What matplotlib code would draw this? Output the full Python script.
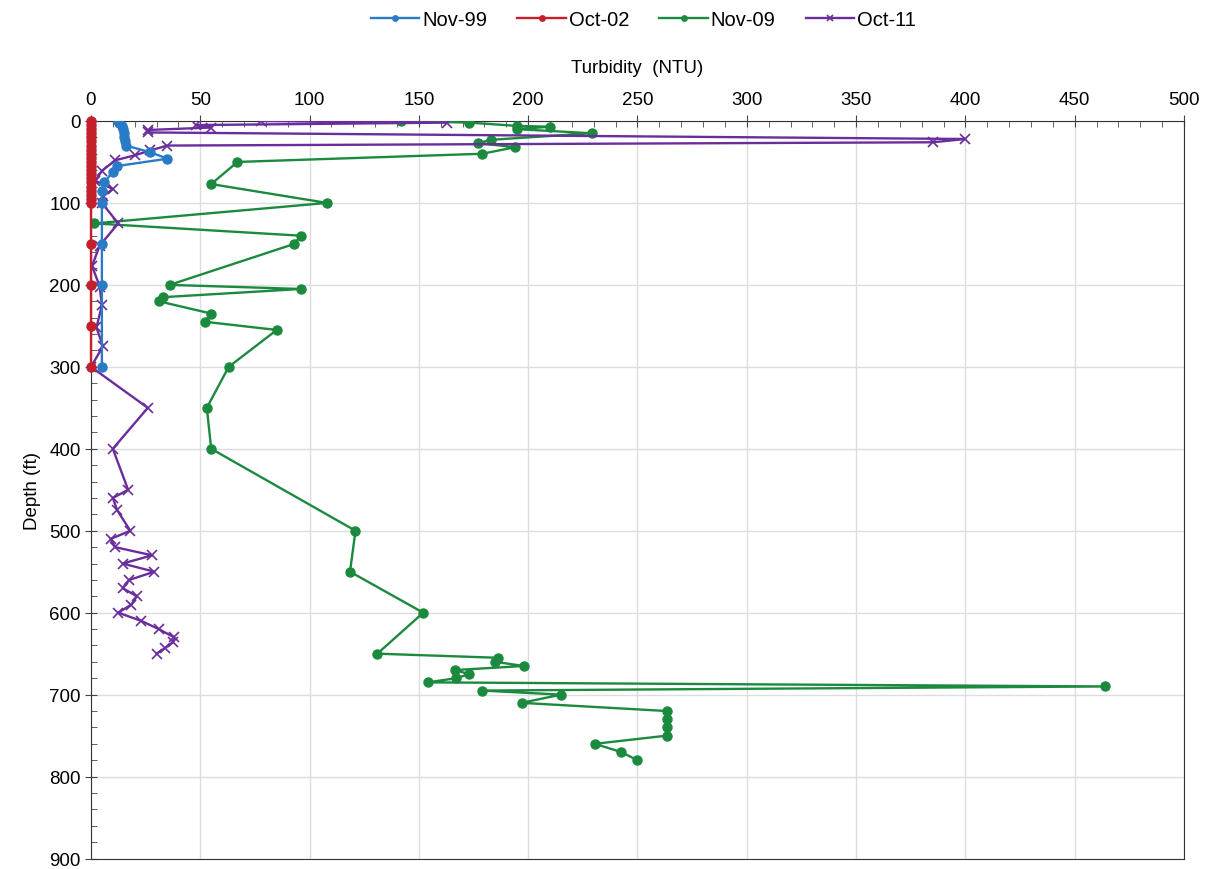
import matplotlib.pyplot as plt
from matplotlib.ticker import MultipleLocator

plt.rcParams['font.family'] = ['Liberation Sans', 'DejaVu Sans']

# Nov-99
d99 = [0, 3, 6, 10, 15, 20, 25, 30, 38, 46, 55, 62, 75, 85, 100, 150, 200, 300]
t99 = [12.5, 13, 14, 14.5, 15, 15, 15.5, 16, 27, 35, 12, 10, 6, 5, 5, 5, 5, 5]

# Oct-02
d02 = [0, 5, 10, 15, 20, 25, 30, 35, 40, 45, 50, 55, 60, 65, 70, 75, 80, 85, 90, 95, 100,
       150, 200, 250, 300]
t02 = [0, 0, 0, 0, 0, 0, 0, 0, 0, 0, 0, 0, 0, 0, 0, 0, 0, 0, 0, 0, 0,
       0, 0, 0, 0]

# Nov-09
d09 = [0, 2, 6, 7, 10, 15, 23, 27, 32, 40, 50, 77, 100, 125, 140, 150, 200, 205, 215, 220,
       235, 245, 255, 300, 350, 400, 500, 550, 600, 650, 655, 660, 665, 670, 675, 680, 685,
       690, 695, 700, 710, 720, 730, 740, 750, 760, 770, 780]
t09 = [142, 173, 195, 210, 195, 229, 183, 177, 194, 179, 67, 55, 108, 1.5, 96, 93, 36, 96, 33, 31,
       55, 52, 85, 63, 53, 55, 121, 118.5, 152, 131, 186, 185, 198, 166.5, 173, 167, 154,
       464, 179, 215, 197, 263.5, 263.5, 263.5, 263.5, 230.5, 242.5, 250]

# Oct-11
d11 = [0, 2, 5, 8, 11, 14, 22, 26, 30, 36, 42, 48, 61, 73, 83, 92, 100, 125, 152, 177, 202,
       225, 252, 275, 300, 350, 400, 450, 460, 475, 500, 510, 520, 530, 540, 550, 560, 570,
       580, 590, 600, 610, 620, 630, 636, 643, 650]
t11 = [78, 163, 48, 55, 26, 26, 400, 385, 35, 27, 20, 11, 5, 2, 10, 5.5, 5, 12.5, 4, 0.5, 4,
       5, 2.5, 5.5, 0, 26, 10, 17, 10, 12, 18, 9, 11, 28, 14.5, 29, 17.5, 14.5,
       21, 18.5, 12.5, 23, 31, 38, 37.5, 34, 30]

fig = plt.figure(figsize=(12.21, 8.7), dpi=100)
ax = fig.add_axes([0.0745, 0.012, 0.8952, 0.8478])

l09, = ax.plot(t09, d09, color='#1b8a3e', marker='o', ms=6.5, lw=1.7, label='Nov-09', zorder=3)
l11, = ax.plot(t11, d11, color='#6a2d9c', marker='x', ms=7.5, mew=1.2, lw=1.7, label='Oct-11', zorder=4)
l99, = ax.plot(t99, d99, color='#2a7bc6', marker='o', ms=6.5, lw=1.7, label='Nov-99', zorder=5)
l02, = ax.plot(t02, d02, color='#c41f2b', marker='o', ms=6.5, lw=1.7, label='Oct-02', zorder=6,
               clip_on=False)

ax.set_xlim(0, 500)
ax.set_ylim(900, 0)
ax.xaxis.set_major_locator(MultipleLocator(50))
ax.xaxis.set_minor_locator(MultipleLocator(10))
ax.yaxis.set_major_locator(MultipleLocator(100))
ax.yaxis.set_minor_locator(MultipleLocator(20))
ax.xaxis.tick_top()
ax.xaxis.set_label_position('top')
ax.tick_params(which='major', direction='inout', length=8, labelsize=13.5, color='#444444')
ax.tick_params(which='minor', direction='in', length=4, color='#444444')
ax.tick_params(axis='x', pad=5)
ax.grid(True, which='major', color='#dddddd', lw=1)
ax.set_axisbelow(True)
for s in ax.spines.values():
    s.set_color('#333333')

ax.set_xlabel('Turbidity  (NTU)', fontsize=13.5, labelpad=14)
ax.set_ylabel('Depth (ft)', fontsize=13.5, labelpad=6)

fig.legend(handles=[l99, l02, l09, l11], loc='upper center', bbox_to_anchor=(0.527, 1.008),
           ncol=4, frameon=False, fontsize=14.5, handlelength=2.4, handletextpad=0.15,
           columnspacing=1.5, markerscale=0.6)

fig.savefig('out.png', dpi=100)
